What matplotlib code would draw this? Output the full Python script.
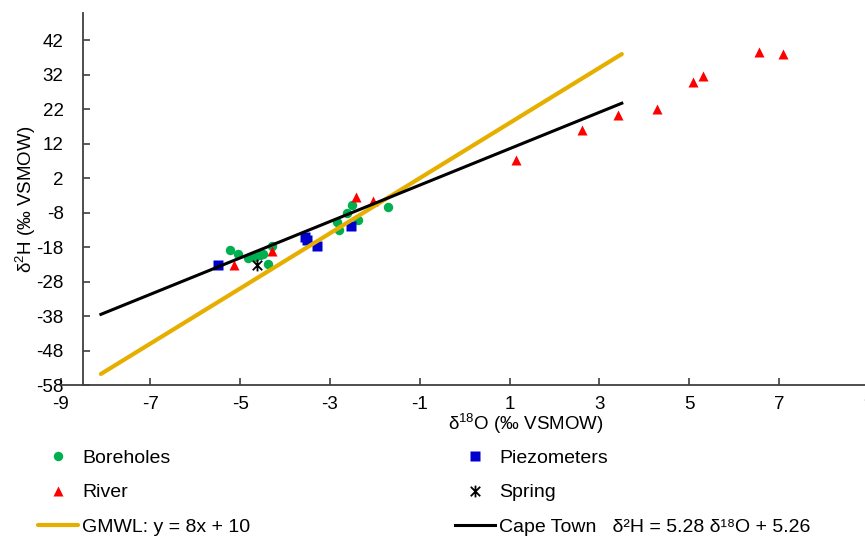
import numpy as np
import matplotlib
matplotlib.use('Agg')
import matplotlib.pyplot as plt
from matplotlib.path import Path

plt.rcParams['font.family'] = ['Liberation Sans', 'DejaVu Sans']
plt.rcParams['mathtext.fontset'] = 'custom'
plt.rcParams['mathtext.rm'] = 'Liberation Sans'
plt.rcParams['mathtext.default'] = 'regular'
plt.rcParams['axes.unicode_minus'] = False

# sample data, d18O (x) and d2H (y), per-mil VSMOW
borehole_x = [-5.22, -5.05, -4.82, -4.67, -4.55, -4.48, -4.38, -4.30,
              -2.85, -2.80, -2.63, -2.51, -2.37, -1.70]
borehole_y = [-18.7, -20.1, -21.3, -20.8, -20.4, -20.0, -22.8, -17.6,
              -10.7, -13.0, -8.0, -5.8, -10.2, -6.3]
piezo_x = [-5.49, -3.56, -3.50, -3.28, -2.52]
piezo_y = [-23.3, -15.0, -16.0, -17.6, -11.8]
river_x = [-5.14, -4.30, -2.42, -2.05, 1.14, 2.62, 3.41, 4.28, 5.09, 5.30, 6.56, 7.09]
river_y = [-23.1, -19.2, -3.6, -4.6, 7.4, 16.0, 20.3, 22.0, 30.0, 31.6, 38.6, 37.9]
spring_x = [-4.63]
spring_y = [-23.3]

# meteoric water lines: slope, intercept, x-range
gmwl = (8.0, 10.0)
ctmwl = (5.28, 5.26)
line_x = [-8.1, 3.5]

xticks = [-9, -7, -5, -3, -1, 1, 3, 5, 7, 9]
yticks = [-58, -48, -38, -28, -18, -8, 2, 12, 22, 32, 42]

W, H = 865, 536
fig = plt.figure(figsize=(W / 100, H / 100), dpi=100)
left, right = 60.5, 880
top, bottom = 12.7, 385
ax = fig.add_axes([left / W, 1 - bottom / H, (right - left) / W, (bottom - top) / H])

# excel-style star marker: an x with a vertical bar
star = Path([(-1, -1), (1, 1), (-1, 1), (1, -1), (0, -1.25), (0, 1.25)],
            [Path.MOVETO, Path.LINETO, Path.MOVETO, Path.LINETO, Path.MOVETO, Path.LINETO])

h_bh, = ax.plot(borehole_x, borehole_y, 'o', color='#00B050', ms=6.8, mec='none', zorder=3)
h_pz, = ax.plot(piezo_x, piezo_y, 's', color='#0000CC', ms=7.3, mec='none', zorder=3)
h_rv, = ax.plot(river_x, river_y, '^', color='#FF0000', ms=7.3, mec='none', zorder=3)
h_sp, = ax.plot(spring_x, spring_y, marker=star, ls='none', color='black', ms=8.5,
                mew=1.3, mfc='none', zorder=4)

lx = np.array(line_x)
h_gm, = ax.plot(lx, gmwl[0] * lx + gmwl[1], color='#E6AF00', lw=3.0,
                solid_capstyle='round', zorder=5)
h_ct, = ax.plot(lx, ctmwl[0] * lx + ctmwl[1], color='black', lw=2.2, zorder=6)

ax.set_xlim(-9, 9.25)
ax.set_ylim(-58, 50)
ax.set_xticks(xticks)
ax.set_yticks(yticks)
ax.spines['top'].set_visible(False)
ax.spines['right'].set_visible(False)
ax.spines['left'].set_position(('data', -8.5))
for s in ['left', 'bottom']:
    ax.spines[s].set_color('#404040')
    ax.spines[s].set_linewidth(1.3)
ax.tick_params(axis='both', direction='in', length=5, width=1.2, color='#404040',
               labelsize=13.5, labelcolor='black')
ax.tick_params(axis='y', pad=14)
ax.tick_params(axis='x', pad=8)

fig.text(526 / W, 1 - 424 / H, 'δ$^{18}$O (‰ VSMOW)', ha='center', va='center', fontsize=13.5)
fig.text(26 / W, 1 - 199 / H, 'δ$^{2}$H (‰ VSMOW)', ha='center', va='center',
         rotation=90, fontsize=13.5)

leg_kw = dict(frameon=False, fontsize=14, borderpad=0, borderaxespad=0,
              handlelength=2.06, handletextpad=0.2, labelspacing=0.88, loc='upper left')
fig.legend([h_bh, h_rv, h_gm], ['Boreholes', 'River', 'GMWL: y = 8x + 10'],
           bbox_to_anchor=(38 / W, 1 - 449 / H), **leg_kw)
fig.legend([h_pz, h_sp, h_ct],
           ['Piezometers', 'Spring', 'Cape Town   δ²H = 5.28 δ¹⁸O + 5.26'],
           bbox_to_anchor=(455 / W, 1 - 449 / H), **leg_kw)

fig.savefig('out.png', dpi=100)
